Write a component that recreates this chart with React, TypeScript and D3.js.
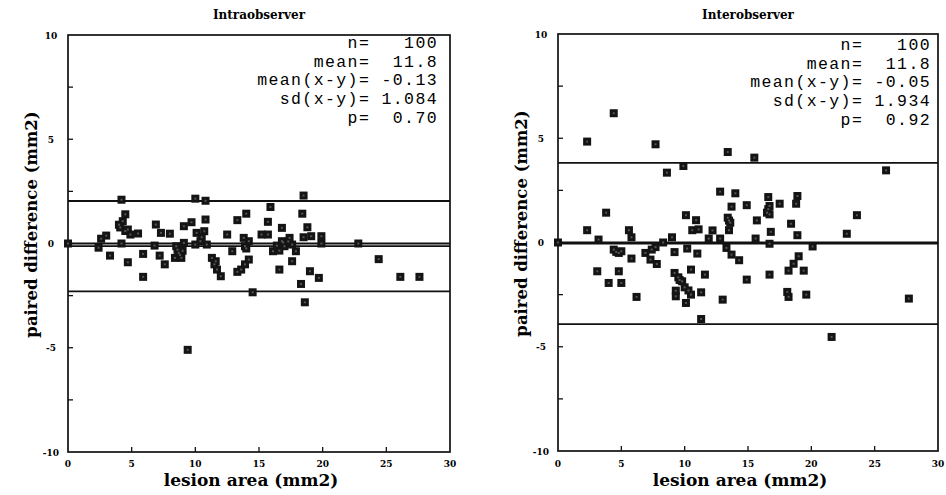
import * as d3 from 'd3'
import { useEffect, useRef } from 'react'

// paired differences vs lesion area
const intraArea = [
  0, 4.2, 10.0, 10.8, 4.5, 4.3, 4.1, 4.7, 4.9, 5.5, 3.0, 2.6, 2.4, 3.3, 4.2, 4.7, 5.9, 5.9, 6.9, 7.3,
  8.0, 6.8, 7.2, 7.6, 9.1, 9.7, 10.8, 10.1, 10.7, 8.5, 9.1, 8.7, 8.4, 8.9, 10.0, 10.4, 10.9, 9.4, 18.5, 15.9,
  14.0, 13.3, 18.4, 15.7, 16.8, 18.8, 12.5, 15.2, 15.7, 18.5, 19.1, 19.9, 19.9, 13.8, 14.2, 13.9, 14.0, 12.9, 22.8, 16.8,
  17.4, 17.6, 17.0, 16.1, 16.6, 17.9, 17.6, 16.6, 11.3, 11.5, 11.7, 12.0, 14.2, 13.9, 13.6, 13.3, 19.0, 19.7, 18.3, 14.5,
  18.6, 24.4, 26.1, 27.6, 8.6, 9.0, 4.5, 10.5, 16.9, 16.4, 17.3, 8.8, 4.0, 11.6,
]
const intraDiff = [
  0, 2.1, 2.15, 2.05, 1.4, 1.07, 0.77, 0.67, 0.43, 0.48, 0.38, 0.23, -0.2, -0.58, 0, -0.9, -0.5, -1.6, 0.91, 0.51,
  0.47, -0.1, -0.58, -1.0, 0.83, 1.02, 1.15, 0.51, 0.59, -0.13, 0.03, -0.45, -0.69, -0.69, -0.05, 0.11, -0.05, -5.1, 2.3, 1.75,
  1.43, 1.12, 1.43, 1.04, 0.75, 0.78, 0.43, 0.43, 0.43, 0.3, 0.35, 0.35, 0, 0.27, 0.11, -0.13, -0.24, -0.37, 0, 0.11,
  0.27, -0.05, -0.13, -0.37, -0.34, -0.37, -0.85, -1.25, -0.69, -1.0, -1.25, -1.57, -0.77, -1.0, -1.25, -1.36, -1.33, -1.65, -1.94, -2.34,
  -2.82, -0.75, -1.6, -1.6, -0.3, -0.35, 0.6, 0.3, 0.05, -0.1, 0.1, -0.55, 0.9, -0.85,
]

const interArea = [
  4.4, 2.3, 7.7, 13.4, 9.9, 8.6, 12.8, 14.0, 13.7, 14.9, 3.8, 10.1, 10.9, 13.4, 13.6, 10.6, 11.1, 12.2, 13.5, 2.3,
  5.6, 5.8, 3.2, 9.0, 11.9, 12.8, 0, 8.3, 4.4, 4.8, 5.0, 5.8, 6.9, 7.4, 7.7, 7.3, 7.8, 9.2, 10.2, 11.0,
  13.3, 13.7, 14.3, 3.1, 4.8, 4.0, 5.0, 6.2, 9.2, 9.5, 9.8, 10.0, 9.3, 9.3, 10.1, 10.5, 10.5, 11.3, 11.6, 13.0,
  11.3, 14.9, 15.5, 25.9, 16.6, 17.5, 18.9, 18.8, 16.7, 16.5, 16.7, 15.7, 23.6, 18.4, 16.8, 18.9, 22.8, 15.6, 16.7, 20.1,
  19.0, 18.6, 18.2, 19.4, 16.7, 18.1, 18.2, 19.6, 27.7, 21.6, 4.6, 10.3, 13.5, 9.6, 16.6,
]
const interDiff = [
  6.2, 4.84, 4.71, 4.34, 3.67, 3.35, 2.44, 2.36, 1.72, 1.79, 1.43, 1.31, 1.07, 1.19, 0.95, 0.59, 0.63, 0.58, 0.59, 0.59,
  0.59, 0.25, 0.14, 0.25, 0.19, 0.19, 0, 0, -0.34, -0.5, -0.42, -0.77, -0.5, -0.34, -0.22, -0.82, -1.03, -0.46, -0.29, -0.53,
  -0.26, -0.58, -0.85, -1.38, -1.38, -1.94, -1.94, -2.61, -1.46, -1.67, -1.86, -2.15, -2.31, -2.58, -2.9, -2.5, -1.3, -2.39, -1.54, -2.74,
  -3.67, -1.78, 4.07, 3.46, 2.18, 1.86, 2.23, 1.86, 1.75, 1.43, 1.35, 1.06, 1.31, 0.9, 0.51, 0.35, 0.42, 0.19, -0.06, -0.19,
  -0.66, -1.02, -1.35, -1.35, -1.54, -2.37, -2.61, -2.5, -2.69, -4.53, -0.45, -2.3, 1.05, -1.8, 1.6,
]

const titles = ['Intraobserver', 'Interobserver']
const statLabels = ['n=', 'mean=', 'mean(x-y)=', 'sd(x-y)=', 'p=']
const intraStats = ['100', '11.8', '-0.13', '1.084', '0.70']
const interStats = ['100', '11.8', '-0.05', '1.934', '0.92']
const meanDiff = [-0.13, -0.05]
const sdDiff = [1.084, 1.934]
const xTicks = [0, 5, 10, 15, 20, 25, 30]
const yTicks = [-10, -5, 0, 5, 10]
const yMinor = [-7.5, -5, -2.5, 0, 2.5, 5, 7.5]

const serif = "'DejaVu Serif', serif"
const mono = "'Liberation Mono', 'Courier New', monospace"

export default function App() {
  const ref = useRef(null)
  useEffect(() => {
    const el = ref.current
    if (!el) return
    const svg = d3.select(el)
    svg.selectAll('*').remove()

    const panels = [
      { left: 68, right: 450, top: 35, bottom: 452, xs: intraArea, ys: intraDiff, stats: intraStats, textBase: 48, labelX: 31, textRight: 438 },
      { left: 558, right: 938, top: 34, bottom: 451, xs: interArea, ys: interDiff, stats: interStats, textBase: 50, labelX: 521, textRight: 931 },
    ]

    panels.forEach((p, i) => {
      const x = d3.scaleLinear().domain([0, 30]).range([p.left, p.right])
      const y = d3.scaleLinear().domain([-10, 10]).range([p.bottom, p.top])
      const g = svg.append('g')

      g.append('text')
        .attr('x', (p.left + p.right) / 2)
        .attr('y', 19)
        .attr('text-anchor', 'middle')
        .attr('font-family', serif)
        .attr('font-weight', 'bold')
        .attr('font-size', 12)
        .text(titles[i])

      // zero, mean and mean +/- 2sd
      const refs = [0, meanDiff[i], meanDiff[i] + 2 * sdDiff[i], meanDiff[i] - 2 * sdDiff[i]]
      g.selectAll('line.ref').data(refs).join('line')
        .attr('x1', p.left).attr('x2', p.right)
        .attr('y1', (d) => y(d)).attr('y2', (d) => y(d))
        .attr('stroke', '#111').attr('stroke-width', 1.8)

      g.append('rect')
        .attr('x', p.left).attr('y', p.top)
        .attr('width', p.right - p.left).attr('height', p.bottom - p.top)
        .attr('fill', 'none').attr('stroke', '#111').attr('stroke-width', 1.7)

      // ticks point inward
      g.selectAll('line.xt').data(xTicks.slice(1, -1)).join('line')
        .attr('x1', (d) => x(d)).attr('x2', (d) => x(d))
        .attr('y1', p.bottom).attr('y2', p.bottom - 5)
        .attr('stroke', '#111').attr('stroke-width', 1.3)
      g.selectAll('line.yt').data(yMinor).join('line')
        .attr('x1', p.left).attr('x2', p.left + 5)
        .attr('y1', (d) => y(d)).attr('y2', (d) => y(d))
        .attr('stroke', '#111').attr('stroke-width', 1.3)

      g.selectAll('text.xl').data(xTicks).join('text')
        .attr('x', (d) => x(d)).attr('y', 466.5)
        .attr('text-anchor', 'middle')
        .attr('font-family', serif).attr('font-weight', 'bold').attr('font-size', 9)
        .text((d) => d)
      g.selectAll('text.yl').data(yTicks).join('text')
        .attr('x', p.left - 17).attr('y', (d) => y(d) + 3.5)
        .attr('text-anchor', 'middle')
        .attr('font-family', serif).attr('font-weight', 'bold').attr('font-size', 9)
        .text((d) => d)

      g.append('text')
        .attr('x', (p.left + p.right) / 2 - 8).attr('y', 486)
        .attr('text-anchor', 'middle')
        .attr('font-family', serif).attr('font-weight', 'bold').attr('font-size', 17)
        .text('lesion area (mm2)')
      g.append('text')
        .attr('transform', `translate(${p.labelX + 6},${y(0) - 19}) rotate(-90)`)
        .attr('text-anchor', 'middle')
        .attr('font-family', serif).attr('font-weight', 'bold').attr('font-size', 16.5)
        .text('paired difference (mm2)')

      // stats block, monospace so the '=' signs line up
      g.selectAll('text.st').data(statLabels).join('text')
        .attr('x', p.textRight).attr('y', (_, k) => p.textBase + k * 18.7)
        .attr('text-anchor', 'end')
        .attr('font-family', mono).attr('font-size', 16.5)
        .attr('letter-spacing', 1.4)
        .attr('xml:space', 'preserve')
        .style('white-space', 'pre')
        .text((d, k) => d + p.stats[k].padStart(6, ' '))

      const pts = p.xs.map((v, k) => [v, p.ys[k]])
      const s = 8
      g.selectAll('rect.pt').data(pts).join('rect')
        .attr('x', (d) => x(d[0]) - s / 2).attr('y', (d) => y(d[1]) - s / 2)
        .attr('width', s).attr('height', s)
        .attr('fill', '#141414')
      g.selectAll('rect.dot').data(pts).join('rect')
        .attr('x', (d) => x(d[0]) - 1).attr('y', (d) => y(d[1]) - 1)
        .attr('width', 2).attr('height', 2)
        .attr('fill', '#555')
    })
  }, [])
  return (
    <svg ref={ref} width={946} height={495}
      style={{ position: 'absolute', left: 0, top: 0, background: '#fff' }} />
  )
}
